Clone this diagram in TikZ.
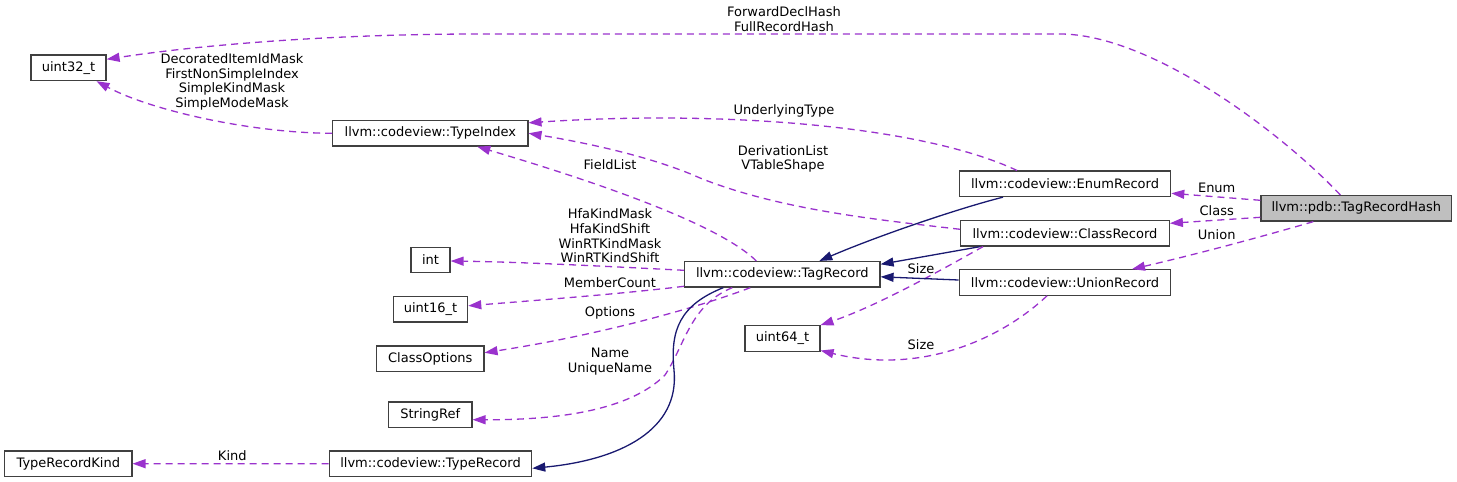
\documentclass[tikz,border=0pt]{standalone}
\usepackage{fontspec}
\setmainfont{DejaVu Sans}
\usetikzlibrary{arrows.meta}
\definecolor{dxpurple}{RGB}{154,50,205}
\definecolor{dxnavy}{RGB}{25,25,112}
\definecolor{dxgrey}{RGB}{64,64,64}
\definecolor{dxfill}{RGB}{191,191,191}
\newcommand{\dxfont}{\fontsize{13}{14.7}\selectfont}

\begin{document}
\begin{tikzpicture}[x=1pt, y=-1pt,
    cls/.style={draw=dxgrey, fill=white, line width=1.2pt, minimum height=25.5pt, inner sep=0pt, font=\dxfont},
    usage/.style={draw=dxpurple, line width=1.3pt, dash pattern=on 7pt off 5pt, -{Triangle[length=13pt,width=9pt,fill=dxpurple]}},
    inherit/.style={draw=dxnavy, line width=1.3pt, -{Triangle[length=13pt,width=9pt,fill=dxnavy]}},
    lbl/.style={font=\dxfont, align=center, inner sep=0pt}
  ]
  \useasboundingbox (0,0) rectangle (1457,482);

  % classes
  \node[cls, fill=dxfill, minimum width=190.7pt] (hash) at (1356.3,208.3) {llvm::pdb::TagRecordHash};
  \node[cls, minimum width=211.4pt] (enumrec) at (1065,183.8) {llvm::codeview::EnumRecord};
  \node[cls, minimum width=208.6pt] (classrec) at (1065,233.3) {llvm::codeview::ClassRecord};
  \node[cls, minimum width=211.4pt] (unionrec) at (1065,282.5) {llvm::codeview::UnionRecord};
  \node[cls, minimum width=195.4pt] (tagrec) at (782.3,274.3) {llvm::codeview::TagRecord};
  \node[cls, minimum width=75pt] (u64) at (782.5,338.5) {uint64\_t};
  \node[cls, minimum width=195.3pt] (typeidx) at (430.3,133.3) {llvm::codeview::TypeIndex};
  \node[cls, minimum width=75pt] (u32) at (68.5,67.8) {uint32\_t};
  \node[cls, minimum width=39pt] (intt) at (430.5,260) {int};
  \node[cls, minimum width=74.4pt] (u16) at (430.5,309.3) {uint16\_t};
  \node[cls, minimum width=107.3pt] (classopts) at (430.3,358.7) {ClassOptions};
  \node[cls, minimum width=83.3pt] (strref) at (430.3,414.7) {StringRef};
  \node[cls, minimum width=202.4pt] (typerec) at (430.5,463.8) {llvm::codeview::TypeRecord};
  \node[cls, minimum width=127.3pt] (reckind) at (68.3,463.7) {TypeRecordKind};

  % members
  \draw[usage] ([xshift=-16pt]hash.north) .. controls (1280,131) and (1150,34) .. (1060,34)
    -- (480,34) .. controls (330,34) and (200,45) .. ([yshift=8.5pt]u32.east);
  \draw[usage] (typeidx.west) .. controls (250,133) and (150,110) .. ([xshift=28pt]u32.south);
  \draw[usage] ([xshift=-48pt]enumrec.north) .. controls (920,125) and (720,110) .. ([yshift=10.5pt]typeidx.east);
  \draw[usage] ([yshift=4pt]classrec.west) .. controls (880,220) and (780,210) .. (700,178)
    .. controls (660,160) and (600,145) .. (typeidx.east);
  \draw[usage] ([xshift=-26pt]tagrec.north) .. controls (725,230) and (630,192) .. ([xshift=47pt]typeidx.south);
  \draw[usage] ([yshift=4pt]tagrec.west) .. controls (600,266) and (520,262) .. ([yshift=-1pt]intt.east);
  \draw[usage] ([yshift=-12pt]tagrec.west) .. controls (620,294) and (540,300) .. ([yshift=3.5pt]u16.east);
  \draw[usage] ([xshift=-32pt]tagrec.south) .. controls (700,307) and (600,335) .. ([yshift=6pt]classopts.east);
  \draw[usage] ([xshift=-50pt]tagrec.south) .. controls (690,305) and (685,345) .. (665,375)
    .. controls (630,410) and (560,420) .. ([yshift=-5pt]strref.east);
  \draw[usage] (typerec.west) -- (reckind.east);
  \draw[usage] ([yshift=8pt]hash.west) -- ([yshift=-9.5pt]enumrec.east);
  \draw[usage] ([yshift=-9pt]hash.west) -- ([yshift=10pt]classrec.east);
  \draw[usage] ([xshift=-43pt]hash.south) .. controls (1240,243) and (1180,258) .. ([xshift=67pt]unionrec.north);
  \draw[usage] ([xshift=-82pt]classrec.south) .. controls (950,265) and (880,305) .. ([xshift=38pt]u64.north);
  \draw[usage] ([xshift=-18pt]unionrec.south) .. controls (1000,340) and (920,375) .. ([yshift=-12pt]u64.east);

  % inheritance
  \draw[inherit] ([xshift=-62pt]enumrec.south) .. controls (960,208) and (880,235) .. ([xshift=37pt]tagrec.north);
  \draw[inherit] ([xshift=-85pt]classrec.south) -- ([yshift=10pt]tagrec.east);
  \draw[inherit] ([yshift=2.5pt]unionrec.west) -- ([yshift=-2.5pt]tagrec.east);
  \draw[inherit] ([xshift=-59pt]tagrec.south) .. controls (680,305) and (670,330) .. (674,370)
    .. controls (680,430) and (620,460) .. ([yshift=-4.5pt]typerec.east);

  % labels
  \node[lbl] (lhash) at (784,19) {ForwardDeclHash\\FullRecordHash};
  \node[lbl] (lmask) at (232,82) {DecoratedItemIdMask\\FirstNonSimpleIndex\\SimpleKindMask\\SimpleModeMask};
  \node[lbl] (lunder) at (784,110.7) {UnderlyingType};
  \node[lbl] (lderiv) at (783,159) {DerivationList\\VTableShape};
  \node[lbl] (lfield) at (610,164.3) {FieldList};
  \node[lbl] (lhfa) at (610,236) {HfaKindMask\\HfaKindShift\\WinRTKindMask\\WinRTKindShift};
  \node[lbl] (lcount) at (610,282.3) {MemberCount};
  \node[lbl] (lopts) at (610,312.7) {Options};
  \node[lbl] (lname) at (610,361.5) {Name\\UniqueName};
  \node[lbl] (lsizea) at (921,268.3) {Size};
  \node[lbl] (lsizeb) at (921,344.3) {Size};
  \node[lbl] (lenum) at (1216.7,187.7) {Enum};
  \node[lbl] (lclass) at (1216.7,210.7) {Class};
  \node[lbl] (lunion) at (1216.7,234.3) {Union};
  \node[lbl] (lkind) at (232.3,455.7) {Kind};
\end{tikzpicture}
\end{document}
